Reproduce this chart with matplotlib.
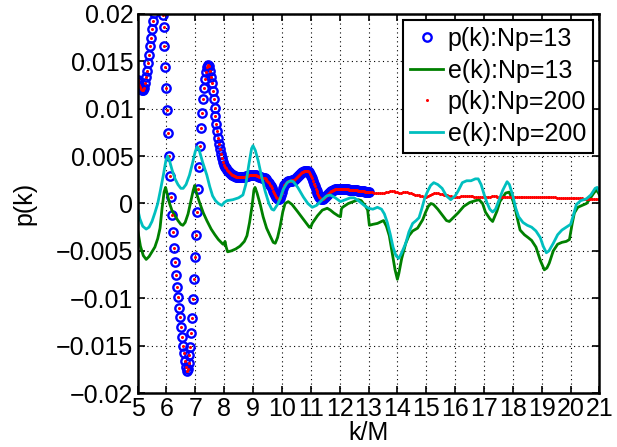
import numpy as np
import matplotlib
matplotlib.use("Agg")
import matplotlib.pyplot as plt
from matplotlib.ticker import FuncFormatter

plt.rcParams['font.family'] = ['Liberation Sans', 'DejaVu Sans']

# p(k) sampled on k = 5 .. 13, step 1/30 (Np = 13; Np = 200 coincides here)
p_np13 = [
    0.0130, 0.0128, 0.0125, 0.0123, 0.0121, 0.0120, 0.0120, 0.0122, 0.0127, 0.0133, 0.0140, 0.0148, 0.0157, 0.0166, 0.0175,
    0.0184, 0.0193, 0.0201, 0.0209, 0.0216, 0.0221, 0.0224, 0.0225, 0.0223, 0.0218, 0.0210, 0.0199, 0.0186, 0.0166, 0.0144,
    0.0122, 0.0099, 0.0074, 0.0050, 0.0029, 0.0007, -0.0012, -0.0030, -0.0047, -0.0062, -0.0075, -0.0088, -0.0099, -0.0110, -0.0120,
    -0.0130, -0.0141, -0.0150, -0.0158, -0.0166, -0.0173, -0.0177, -0.0175, -0.0168, -0.0160, -0.0151, -0.0137, -0.0121, -0.0101, -0.0080,
    -0.0056, -0.0033, -0.0009, 0.0015, 0.0039, 0.0061, 0.0080, 0.0096, 0.0110, 0.0122, 0.0131, 0.0139, 0.0144, 0.0146, 0.0145,
    0.0140, 0.0134, 0.0127, 0.0119, 0.0110, 0.0101, 0.0092, 0.0084, 0.0076, 0.0069, 0.0063, 0.0057, 0.0052, 0.0048, 0.0044,
    0.0041, 0.0039, 0.0037, 0.0035, 0.0034, 0.0033, 0.0032, 0.0031, 0.0030, 0.0030, 0.0029, 0.0029, 0.0028, 0.0028, 0.0028,
    0.0028, 0.0028, 0.0028, 0.0028, 0.0028, 0.0028, 0.0028, 0.0028, 0.0029, 0.0029, 0.0029, 0.0030, 0.0030, 0.0030, 0.0030,
    0.0030, 0.0030, 0.0030, 0.0030, 0.0029, 0.0029, 0.0028, 0.0028, 0.0028, 0.0027, 0.0027, 0.0027, 0.0027, 0.0026, 0.0025,
    0.0024, 0.0023, 0.0022, 0.0020, 0.0018, 0.0016, 0.0013, 0.0011, 0.0009, 0.0007, 0.0006, 0.0005, 0.0005, 0.0006, 0.0009,
    0.0012, 0.0016, 0.0019, 0.0021, 0.0022, 0.0023, 0.0024, 0.0024, 0.0024, 0.0024, 0.0024, 0.0025, 0.0025, 0.0025, 0.0026,
    0.0027, 0.0028, 0.0029, 0.0030, 0.0031, 0.0032, 0.0033, 0.0033, 0.0034, 0.0034, 0.0034, 0.0034, 0.0034, 0.0033, 0.0031,
    0.0029, 0.0027, 0.0024, 0.0021, 0.0018, 0.0015, 0.0013, 0.0011, 0.0009, 0.0007, 0.0006, 0.0005, 0.0005, 0.0005, 0.0006,
    0.0007, 0.0008, 0.0009, 0.0010, 0.0011, 0.0012, 0.0013, 0.0013, 0.0014, 0.0014, 0.0015, 0.0015, 0.0015, 0.0015, 0.0015,
    0.0015, 0.0015, 0.0015, 0.0015, 0.0015, 0.0015, 0.0015, 0.0015, 0.0015, 0.0015, 0.0014, 0.0014, 0.0014, 0.0014, 0.0014,
    0.0014, 0.0014, 0.0014, 0.0014, 0.0013, 0.0013, 0.0013, 0.0013, 0.0013, 0.0013, 0.0013, 0.0012, 0.0012, 0.0012, 0.0012,
    0.0012,
]
k_np13 = np.linspace(5, 13, len(p_np13))

# p(k) for Np = 200 beyond k = 13, step 1/15 up to k = 21
p_np200_tail = [
    0.0012, 0.0012, 0.0011, 0.0011, 0.0011, 0.0011, 0.0011, 0.0011, 0.0012, 0.0012, 0.0013, 0.0013, 0.0013, 0.0012, 0.0012,
    0.0011, 0.0011, 0.0012, 0.0012, 0.0012, 0.0011, 0.0011, 0.0010, 0.0009, 0.0009, 0.0009, 0.0008, 0.0008, 0.0007, 0.0007,
    0.0008, 0.0009, 0.0010, 0.0011, 0.0011, 0.0011, 0.0010, 0.0010, 0.0009, 0.0009, 0.0009, 0.0008, 0.0008, 0.0007, 0.0007,
    0.0007, 0.0007, 0.0008, 0.0008, 0.0008, 0.0008, 0.0008, 0.0008, 0.0008, 0.0007, 0.0007, 0.0007, 0.0007, 0.0007, 0.0007,
    0.0007, 0.0007, 0.0007, 0.0008, 0.0008, 0.0008, 0.0007, 0.0007, 0.0007, 0.0007, 0.0007, 0.0007, 0.0007, 0.0007, 0.0007,
    0.0007, 0.0007, 0.0007, 0.0007, 0.0007, 0.0007, 0.0007, 0.0007, 0.0007, 0.0007, 0.0007, 0.0007, 0.0007, 0.0007, 0.0007,
    0.0007, 0.0007, 0.0007, 0.0007, 0.0007, 0.0007, 0.0007, 0.0006, 0.0006, 0.0006, 0.0006, 0.0006, 0.0006, 0.0006, 0.0006,
    0.0006, 0.0006, 0.0006, 0.0006, 0.0006, 0.0006, 0.0005, 0.0005, 0.0005, 0.0005, 0.0005, 0.0005, 0.0005, 0.0005, 0.0005,
]
k_np200_tail = np.linspace(13 + 1 / 15, 21, len(p_np200_tail))
k_np200 = np.concatenate([k_np13, k_np200_tail])
p_np200 = p_np13 + p_np200_tail

# e(k) for Np = 13
k_e13 = [5.00, 5.10, 5.20, 5.30, 5.40, 5.50, 5.60, 5.70, 5.78, 5.85, 5.92, 5.97, 6.03, 6.11, 6.20, 6.30,
         6.40, 6.50, 6.57, 6.65, 6.75, 6.85, 6.93, 6.98, 7.05, 7.16, 7.28, 7.40, 7.55, 7.68, 7.80, 7.96,
         8.00, 8.03, 8.07, 8.12, 8.25, 8.40, 8.55, 8.70, 8.79, 8.88, 8.97, 9.03, 9.07, 9.14, 9.25, 9.35,
         9.47, 9.59, 9.70, 9.77, 9.85, 9.94, 10.03, 10.11, 10.22, 10.35, 10.53, 10.75, 10.95, 11.00, 11.05,
         11.23, 11.40, 11.57, 11.68, 11.80, 11.95, 12.03, 12.06, 12.10, 12.30, 12.48, 12.65, 12.75, 12.90,
         12.97, 13.03, 13.15, 13.31, 13.45, 13.52, 13.62, 13.72, 13.82, 13.92, 14.00, 14.05, 14.15, 14.29,
         14.40, 14.53, 14.70, 14.88, 14.98, 15.07, 15.16, 15.25, 15.40, 15.55, 15.70, 15.80, 15.90, 16.10,
         16.30, 16.50, 16.70, 16.83, 16.95, 17.05, 17.20, 17.30, 17.45, 17.55, 17.75, 17.87, 17.95, 18.04,
         18.15, 18.25, 18.40, 18.53, 18.65, 18.80, 18.95, 19.09, 19.18, 19.26, 19.40, 19.55, 19.70, 19.85,
         19.96, 20.05, 20.13, 20.25, 20.40, 20.55, 20.65, 20.78, 20.88, 20.95, 21.00]
e_np13 = [-0.0027, -0.0045, -0.0055, -0.0059, -0.0056, -0.0051, -0.0046, -0.0037, -0.0026, -0.0005, 0.0012, 0.0017,
          0.0010, 0.0000, -0.0008, -0.0013, -0.0018, -0.0022, -0.0023, -0.0020, -0.0011, 0.0003, 0.0014, 0.0019,
          0.0010, 0.0000, -0.0010, -0.0018, -0.0027, -0.0033, -0.0038, -0.0043, -0.0043, -0.0040, -0.0046, -0.0051,
          -0.0050, -0.0048, -0.0045, -0.0040, -0.0034, -0.0020, -0.0002, 0.0014, 0.0017, 0.0011, -0.0001, -0.0014,
          -0.0026, -0.0034, -0.0041, -0.0042, -0.0036, -0.0024, -0.0009, 0.0000, 0.0002, -0.0001, -0.0008, -0.0017,
          -0.0025, -0.0025, -0.0021, -0.0013, -0.0007, -0.0005, -0.0007, -0.0010, -0.0013, -0.0014, -0.0006, -0.0004,
          0.0000, 0.0002, 0.0004, 0.0003, -0.0003, -0.0007, -0.0023, -0.0022, -0.0021, -0.0019, -0.0018, -0.0024,
          -0.0034, -0.0052, -0.0070, -0.0080, -0.0074, -0.0058, -0.0042, -0.0034, -0.0029, -0.0026, -0.0017, -0.0009,
          -0.0003, 0.0000, -0.0001, -0.0006, -0.0012, -0.0018, -0.0019, -0.0016, -0.0010, -0.0003, 0.0001, 0.0003,
          0.0004, 0.0000, -0.0009, -0.0016, -0.0019, -0.0008, 0.0002, 0.0011, 0.0012, 0.0007, 0.0000, -0.0015,
          -0.0028, -0.0033, -0.0036, -0.0039, -0.0046, -0.0060, -0.0070, -0.0068, -0.0063, -0.0050, -0.0043, -0.0041,
          -0.0040, -0.0038, -0.0022, -0.0010, -0.0004, -0.0002, 0.0000, 0.0004, 0.0010, 0.0014, 0.0012, 0.0009]

# e(k) for Np = 200
k_e200 = [5.00, 5.08, 5.18, 5.30, 5.40, 5.50, 5.60, 5.70, 5.80, 5.90, 5.98, 6.04, 6.10, 6.20, 6.30, 6.40,
          6.50, 6.58, 6.68, 6.80, 6.90, 7.00, 7.07, 7.13, 7.25, 7.40, 7.50, 7.60, 7.70, 7.80, 7.92, 8.00,
          8.10, 8.30, 8.50, 8.65, 8.75, 8.85, 8.95, 9.00, 9.08, 9.18, 9.30, 9.42, 9.55, 9.65, 9.72, 9.85,
          9.95, 10.05, 10.18, 10.30, 10.40, 10.55, 10.74, 10.90, 11.05, 11.20, 11.40, 11.55, 11.68, 11.85,
          12.03, 12.20, 12.37, 12.50, 12.65, 12.85, 13.00, 13.15, 13.31, 13.45, 13.55, 13.65, 13.75, 13.85,
          13.95, 14.04, 14.12, 14.29, 14.40, 14.53, 14.65, 14.75, 14.85, 14.95, 15.05, 15.15, 15.26, 15.40,
          15.55, 15.70, 15.85, 16.00, 16.10, 16.25, 16.40, 16.55, 16.70, 16.80, 16.90, 17.00, 17.10, 17.20,
          17.30, 17.40, 17.50, 17.65, 17.80, 17.88, 18.00, 18.10, 18.20, 18.35, 18.50, 18.65, 18.80, 18.95,
          19.05, 19.16, 19.25, 19.40, 19.55, 19.70, 19.85, 20.00, 20.10, 20.20, 20.35, 20.55, 20.70, 20.85,
          20.92, 21.00]
e_np200 = [-0.0005, -0.0016, -0.0024, -0.0027, -0.0025, -0.0019, -0.0010, 0.0000, 0.0015, 0.0031, 0.0045, 0.0050,
           0.0046, 0.0035, 0.0026, 0.0020, 0.0016, 0.0016, 0.0020, 0.0030, 0.0042, 0.0055, 0.0060, 0.0057,
           0.0044, 0.0030, 0.0018, 0.0008, 0.0003, 0.0000, -0.0002, 0.0001, 0.0003, 0.0004, 0.0006, 0.0009,
           0.0020, 0.0040, 0.0058, 0.0061, 0.0056, 0.0045, 0.0028, 0.0013, 0.0000, -0.0006, -0.0007, -0.0001,
           0.0006, 0.0015, 0.0022, 0.0024, 0.0023, 0.0017, 0.0007, 0.0000, -0.0004, -0.0002, 0.0004, 0.0008,
           0.0009, 0.0006, 0.0002, 0.0004, 0.0006, 0.0006, 0.0003, -0.0002, -0.0005, -0.0006, -0.0004, -0.0006,
           -0.0011, -0.0020, -0.0032, -0.0046, -0.0055, -0.0058, -0.0054, -0.0042, -0.0030, -0.0021, -0.0018, -0.0015,
           -0.0005, 0.0006, 0.0013, 0.0019, 0.0022, 0.0020, 0.0016, 0.0008, 0.0004, 0.0008, 0.0013, 0.0022,
           0.0024, 0.0024, 0.0026, 0.0026, 0.0020, 0.0010, 0.0001, -0.0006, -0.0009, -0.0006, 0.0002, 0.0014,
           0.0023, 0.0020, 0.0008, -0.0005, -0.0014, -0.0020, -0.0023, -0.0025, -0.0029, -0.0036, -0.0045, -0.0052,
           -0.0050, -0.0042, -0.0033, -0.0028, -0.0025, -0.0022, -0.0012, -0.0001, 0.0003, 0.0005, 0.0009, 0.0016,
           0.0017, 0.0012]

x_ticks = list(range(5, 22))
y_ticks = [-0.02, -0.015, -0.01, -0.005, 0, 0.005, 0.01, 0.015, 0.02]

fig = plt.figure(figsize=(6.17, 4.47), dpi=100)
ax = fig.add_axes([0.2229, 0.1208, 0.7487, 0.8479])

ax.plot(k_np13, p_np13, linestyle='none', marker='o', markersize=6.0, markerfacecolor='none',
        markeredgecolor='#0000ff', markeredgewidth=1.7, label='p(k):Np=13')
ax.plot(k_e13, e_np13, color='#008000', linewidth=2.0, label='e(k):Np=13')
ax.plot(k_np200, p_np200, linestyle='none', marker='o', markersize=2.2, markeredgewidth=0,
        color='#ff0000', label='p(k):Np=200')
ax.plot(k_e200, e_np200, color='#00bfbf', linewidth=2.0, label='e(k):Np=200')

ax.set_xlim(5, 21)
ax.set_ylim(-0.02, 0.02)
ax.set_xticks(x_ticks)
ax.set_yticks(y_ticks)


def fmt_y(v, pos):
    s = ('%g' % v)
    return s.replace('-', '\u2212')


ax.yaxis.set_major_formatter(FuncFormatter(fmt_y))
ax.tick_params(direction='in', length=5, width=1.2, labelsize=18, top=True, right=True, pad=3)
ax.grid(True, color='black', linestyle=(0, (1, 3)), linewidth=0.8)
for sp in ax.spines.values():
    sp.set_linewidth(1.8)

ax.set_xlabel('k/M', fontsize=18, labelpad=0)
ax.set_ylabel('p(k)', fontsize=18, labelpad=14)

leg = ax.legend(loc='upper right', fontsize=18, frameon=True, fancybox=False, framealpha=1,
                edgecolor='black', handlelength=1.3, handletextpad=0.2, labelspacing=0.3,
                borderpad=0.28, borderaxespad=0.25, numpoints=1)
leg.get_frame().set_linewidth(1.5)

fig.savefig('out.png', dpi=100)
